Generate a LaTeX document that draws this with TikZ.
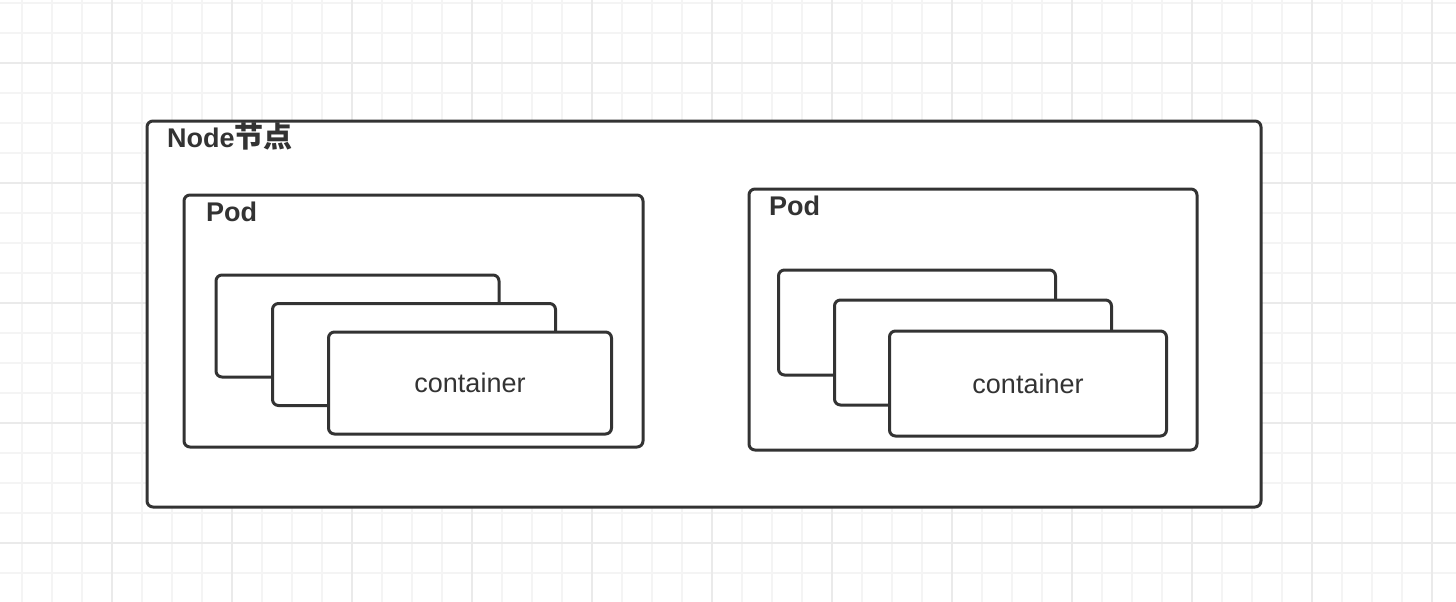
\documentclass[tikz,border=0pt]{standalone}
\usepackage{fontspec}
\setmainfont{Liberation Sans}
\newfontfamily\cjk{Noto Sans CJK SC}
\usepackage{tikz}
\definecolor{gridminor}{HTML}{F4F4F4}
\definecolor{gridmajor}{HTML}{EAEAEA}
\definecolor{ink}{HTML}{333333}

\begin{document}
\begin{tikzpicture}[x=1pt,y=-1pt]
  \tikzstyle{box}=[draw=ink,fill=white,line width=3pt,rounded corners=6pt,
    inner sep=0pt,outer sep=0pt]
  \tikzstyle{title}=[anchor=base west,inner sep=0pt,text=ink,
    font=\fontsize{27}{30}\selectfont\bfseries]
  \tikzstyle{label}=[text=ink,font=\fontsize{27}{30}\selectfont]

  \useasboundingbox (0,0) rectangle (1456,602);
  \fill[white] (0,0) rectangle (1456,602);
  \foreach \x in {22,52,...,1432}
    \draw[gridminor,line width=1.2pt] (\x,0) -- (\x,602);
  \foreach \y in {3,33,...,603}
    \draw[gridminor,line width=1.2pt] (0,\y) -- (1456,\y);
  \foreach \x in {112,232,...,1432}
    \draw[gridmajor,line width=1.8pt] (\x,0) -- (\x,602);
  \foreach \y in {63,183,...,543}
    \draw[gridmajor,line width=1.8pt] (0,\y) -- (1456,\y);

  \node [box,minimum width=1114pt,minimum height=386pt] (node) at (704,314) {};
  \node [title] (nodetitle) at (167,147)
    {Node{\cjk\fontsize{29}{30}\selectfont 节点}};

  % left pod
  \node [box,minimum width=459pt,minimum height=252pt] (podl) at (413.5,321) {};
  \node [title] (podltitle) at (206,221) {Pod};
  \node [box,minimum width=283pt,minimum height=102pt] (cl1) at (357.5,326) {};
  \node [box,minimum width=283pt,minimum height=102pt] (cl2) at (414,354.5) {};
  \node [box,minimum width=283pt,minimum height=102pt] (cl3) at (470,383) {};
  \node [label] (cl3text) at (cl3) {container};

  % right pod
  \node [box,minimum width=448pt,minimum height=261pt] (podr) at (973,319.5) {};
  \node [title] (podrtitle) at (769,215) {Pod};
  \node [box,minimum width=277pt,minimum height=105pt] (cr1) at (917,322.5) {};
  \node [box,minimum width=277pt,minimum height=105pt] (cr2) at (973,352.5) {};
  \node [box,minimum width=277pt,minimum height=105pt] (cr3) at (1028,383.5) {};
  \node [label] (cr3text) at (cr3) {container};
\end{tikzpicture}
\end{document}
